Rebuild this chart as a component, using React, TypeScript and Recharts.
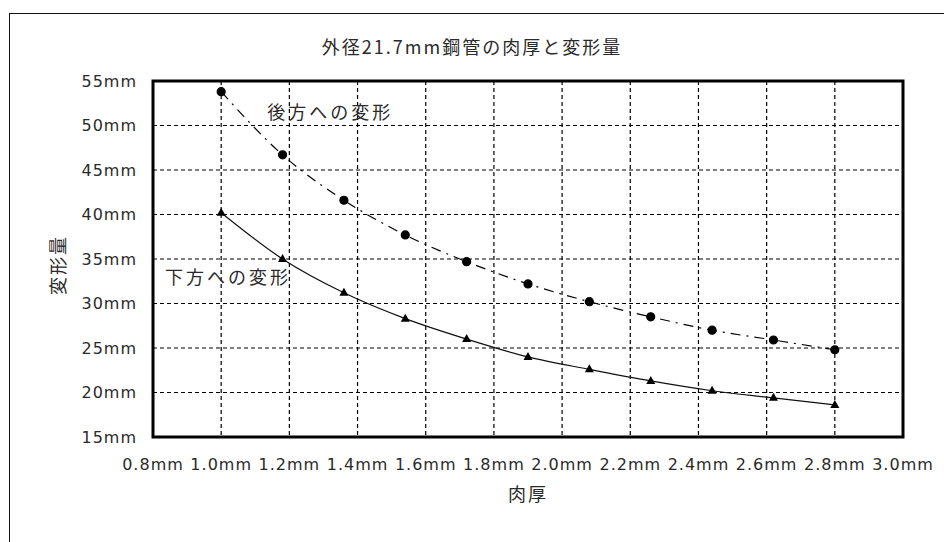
import { LineChart, Line, XAxis, YAxis, CartesianGrid, ReferenceArea, ReferenceDot } from 'recharts';

const THICKNESS = [1.0, 1.18, 1.36, 1.54, 1.72, 1.9, 2.08, 2.26, 2.44, 2.62, 2.8];
const BACKWARD = [53.8, 46.7, 41.6, 37.7, 34.7, 32.2, 30.2, 28.5, 27.0, 25.9, 24.8];
const DOWNWARD = [40.2, 35.0, 31.2, 28.3, 26.0, 24.0, 22.6, 21.3, 20.2, 19.4, 18.6];

const X_TICKS = [0.8, 1.0, 1.2, 1.4, 1.6, 1.8, 2.0, 2.2, 2.4, 2.6, 2.8, 3.0];
const Y_TICKS = [15, 20, 25, 30, 35, 40, 45, 50, 55];

const TITLE = '外径21.7mm鋼管の肉厚と変形量';
const X_TITLE = '肉厚';
const Y_TITLE = '変形量';
const BACK_LABEL = '後方への変形';
const DOWN_LABEL = '下方への変形';

const data = THICKNESS.map((t, i) => ({ t, back: BACKWARD[i], down: DOWNWARD[i] }));

const INK = '#000000';
const TEXT = '#2a2a2a';
const CJK = '"Noto Sans CJK JP", sans-serif';
const LATIN = '"DejaVu Sans", sans-serif';

const Triangle = (props: any) => {
  const { cx, cy } = props;
  if (cx == null || cy == null) return null;
  return <polygon points={`${cx},${cy - 5} ${cx - 4.5},${cy + 3} ${cx + 4.5},${cy + 3}`} fill={INK} />;
};

export default function App() {
  return (
    <div style={{ position: 'absolute', left: 0, top: 0, width: 944, height: 542, background: '#fff', overflow: 'hidden' }}>
      <div style={{ position: 'absolute', left: 9, top: 13, right: -10, bottom: -10, borderTop: '1.5px solid #111', borderLeft: '1.5px solid #111' }} />
      <div style={{ position: 'absolute', left: 0, width: 944, top: 34, textAlign: 'center', fontFamily: CJK, fontSize: 18, letterSpacing: 2, color: TEXT, lineHeight: '24px' }}>
        {TITLE}
      </div>
      <LineChart width={944} height={542} data={data} margin={{ top: 81, right: 41, bottom: 0, left: 0 }}>
        <CartesianGrid stroke={INK} strokeDasharray="4 3" strokeWidth={1.2} />
        <XAxis dataKey="t" type="number" domain={[0.8, 3.0]} ticks={X_TICKS} height={105}
          tickFormatter={(v) => `${v.toFixed(1)}mm`} axisLine={false} tickLine={false} tickSize={6} tickMargin={16}
          tick={{ fontSize: 16, fontFamily: LATIN, fill: TEXT, letterSpacing: 1 }} interval={0}
          label={{ value: X_TITLE, position: 'insideTop', offset: 51, fontSize: 18, fontFamily: CJK, fill: TEXT, stroke: 'none', letterSpacing: 2 }} />
        <YAxis type="number" domain={[15, 55]} ticks={Y_TICKS} width={153}
          tickFormatter={(v) => `${v}mm`} axisLine={false} tickLine={false} tickSize={6} tickMargin={10}
          tick={{ fontSize: 16, fontFamily: LATIN, fill: TEXT, letterSpacing: 1 }} interval={0}
          label={{ value: Y_TITLE, angle: -90, position: 'center', dx: -18, dy: 6, fontSize: 18, fontFamily: CJK, fill: TEXT, stroke: 'none', letterSpacing: 2 }} />
        <ReferenceArea x1={0.8} x2={3.0} y1={15} y2={55} fill="none" fillOpacity={0} stroke={INK} strokeWidth={3} />
        <Line type="monotone" dataKey="back" stroke={INK} strokeWidth={1.2} strokeDasharray="10 6 2 6"
          dot={{ r: 4, fill: INK, stroke: INK, strokeDasharray: '' }} isAnimationActive={false} />
        <Line type="monotone" dataKey="down" stroke="#111" strokeWidth={1.2}
          dot={<Triangle />} isAnimationActive={false} />
        <ReferenceDot x={1.32} y={51.5} r={0} stroke="none" fill="none"
          label={{ value: BACK_LABEL, position: 'center', fontSize: 18, fontFamily: CJK, fill: TEXT, letterSpacing: 3 }} />
        <ReferenceDot x={1.02} y={32.9} r={0} stroke="none" fill="none"
          label={{ value: DOWN_LABEL, position: 'center', fontSize: 18, fontFamily: CJK, fill: TEXT, letterSpacing: 3 }} />
      </LineChart>
    </div>
  );
}
